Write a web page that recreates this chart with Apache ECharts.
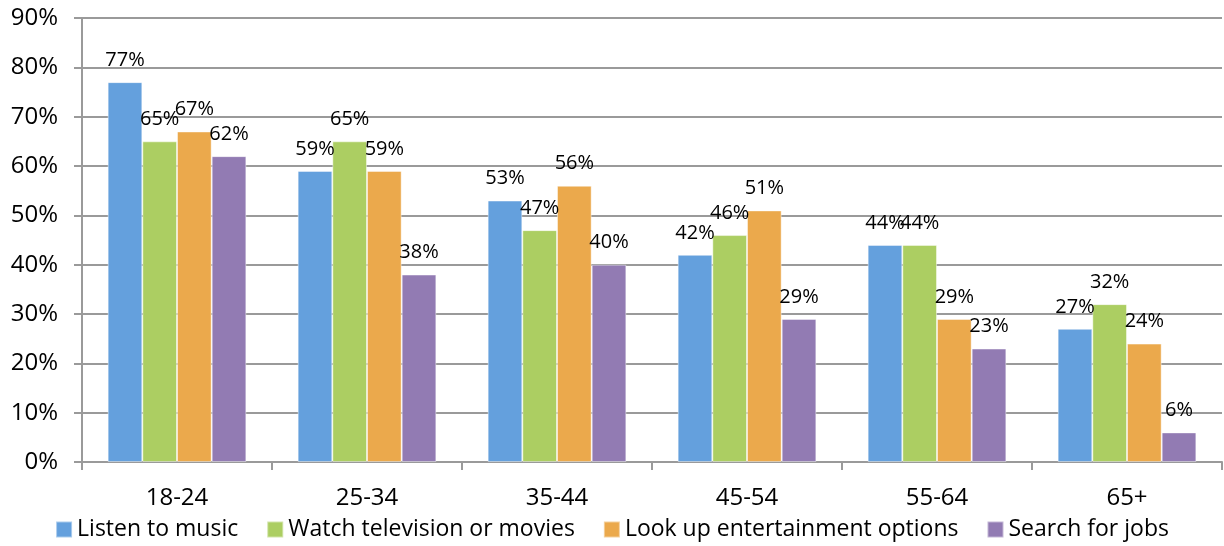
<!DOCTYPE html>
<html>
<head>
<meta charset="utf-8">
<script src="https://cdn.jsdelivr.net/npm/echarts@6/dist/echarts.min.js"></script>
<style>
html, body { margin: 0; padding: 0; background: #fff; }
#chart { width: 1224px; height: 546px; }
</style>
</head>
<body>
<div id="chart"></div>
<script>
// age groups and the four activities (% of users)
const categories = ['18-24', '25-34', '35-44', '45-54', '55-64', '65+'];
const listenMusic = [77, 59, 53, 42, 44, 27];
const watchTv = [65, 65, 47, 46, 44, 32];
const lookUpEntertainment = [67, 59, 56, 51, 29, 24];
const searchJobs = [62, 38, 40, 29, 23, 6];
const seriesNames = ['Listen to music', 'Watch television or movies', 'Look up entertainment options', 'Search for jobs'];
const colors = ['#64a0dd', '#acce62', '#eba94c', '#927bb3'];

const font = '"Open Sans", "Noto Sans", sans-serif';
const chart = echarts.init(document.getElementById('chart'));

function barSeries(name, data) {
    return {
        name: name,
        type: 'bar',
        data: data,
        barGap: '0%',
        barCategoryGap: '27%',
        itemStyle: {
            borderColor: 'rgba(255,255,255,0.45)',
            borderWidth: 1
        },
        label: {
            show: true,
            position: 'top',
            distance: 12,
            formatter: '{c}%',
            color: '#000',
            fontSize: 20,
            fontFamily: font
        }
    };
}

chart.setOption({
    animation: false,
    color: colors,
    grid: { left: 82, right: 2, top: 18, bottom: 84 },
    legend: {
        bottom: 0,
        left: 'center',
        itemWidth: 16,
        itemHeight: 16,
        itemGap: 28,
        icon: 'rect',
        textStyle: { fontSize: 23, color: '#000', fontFamily: font }
    },
    xAxis: {
        type: 'category',
        data: categories,
        axisLine: { lineStyle: { color: '#9a9a9a', width: 2 } },
        axisTick: { show: true, length: 8, lineStyle: { color: '#9a9a9a', width: 2 } },
        axisLabel: { color: '#000', fontSize: 24, margin: 24, fontFamily: font }
    },
    yAxis: {
        type: 'value',
        min: 0,
        max: 90,
        interval: 10,
        axisLine: { show: true, lineStyle: { color: '#9a9a9a', width: 2 } },
        axisTick: { show: true, length: 8, lineStyle: { color: '#9a9a9a', width: 2 } },
        splitLine: { lineStyle: { color: '#9a9a9a', width: 2 } },
        axisLabel: { formatter: '{value}%', color: '#000', fontSize: 24, margin: 24, fontFamily: font }
    },
    series: [
        barSeries(seriesNames[0], listenMusic),
        barSeries(seriesNames[1], watchTv),
        barSeries(seriesNames[2], lookUpEntertainment),
        barSeries(seriesNames[3], searchJobs)
    ]
});
</script>
</body>
</html>
